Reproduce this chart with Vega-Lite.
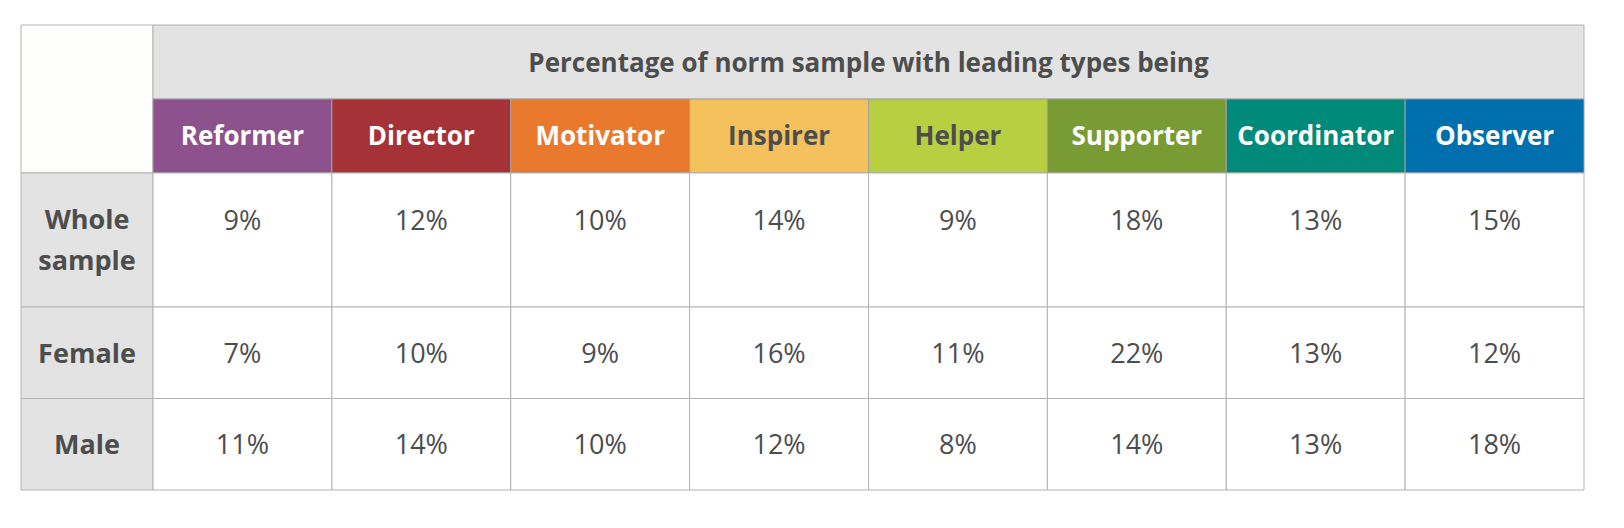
{
  "$schema": "https://vega.github.io/schema/vega-lite/v6.json",
  "padding": {"left": 20, "top": 24, "right": 0, "bottom": 0},
  "autosize": {"type": "pad"},
  "background": "white",
  "config": {"view": {"stroke": null}, "concat": {"spacing": 0}, "font": "Open Sans"},
  "datasets": {
    "types": [
      {"type": "Reformer"}, {"type": "Director"}, {"type": "Motivator"}, {"type": "Inspirer"},
      {"type": "Helper"}, {"type": "Supporter"}, {"type": "Coordinator"}, {"type": "Observer"}
    ],
    "title": [{"title": "Percentage of norm sample with leading types being"}],
    "groups": [{"group": "Whole sample"}, {"group": "Female"}, {"group": "Male"}],
    "cells": [
      {"group": "Whole sample", "type": "Reformer", "pct": "9%"},
      {"group": "Whole sample", "type": "Director", "pct": "12%"},
      {"group": "Whole sample", "type": "Motivator", "pct": "10%"},
      {"group": "Whole sample", "type": "Inspirer", "pct": "14%"},
      {"group": "Whole sample", "type": "Helper", "pct": "9%"},
      {"group": "Whole sample", "type": "Supporter", "pct": "18%"},
      {"group": "Whole sample", "type": "Coordinator", "pct": "13%"},
      {"group": "Whole sample", "type": "Observer", "pct": "15%"},
      {"group": "Female", "type": "Reformer", "pct": "7%"},
      {"group": "Female", "type": "Director", "pct": "10%"},
      {"group": "Female", "type": "Motivator", "pct": "9%"},
      {"group": "Female", "type": "Inspirer", "pct": "16%"},
      {"group": "Female", "type": "Helper", "pct": "11%"},
      {"group": "Female", "type": "Supporter", "pct": "22%"},
      {"group": "Female", "type": "Coordinator", "pct": "13%"},
      {"group": "Female", "type": "Observer", "pct": "12%"},
      {"group": "Male", "type": "Reformer", "pct": "11%"},
      {"group": "Male", "type": "Director", "pct": "14%"},
      {"group": "Male", "type": "Motivator", "pct": "10%"},
      {"group": "Male", "type": "Inspirer", "pct": "12%"},
      {"group": "Male", "type": "Helper", "pct": "8%"},
      {"group": "Male", "type": "Supporter", "pct": "14%"},
      {"group": "Male", "type": "Coordinator", "pct": "13%"},
      {"group": "Male", "type": "Observer", "pct": "18%"}
    ]
  },
  "columns": 2,
  "spacing": 0,
  "bounds": "flush",
  "concat": [
    {
      "width": 132, "height": 148,
      "data": {"name": "title"},
      "mark": {"type": "rect", "fill": "#fefefc", "stroke": "#b3b3b3", "strokeWidth": 1},
      "encoding": {
        "x": {"field": "title", "type": "nominal", "axis": null, "scale": {"paddingInner": 0, "paddingOuter": 0}}
      }
    },
    {
      "width": 1431, "height": 148,
      "layer": [
        {
          "data": {"name": "title"},
          "layer": [
            {
              "mark": {"type": "rect", "fill": "#e3e3e3", "stroke": "#b3b3b3", "strokeWidth": 1},
              "encoding": {
                "y": {"datum": "title", "type": "nominal", "axis": null, "scale": {"domain": ["title", "header"], "paddingInner": 0, "paddingOuter": 0}}
              }
            },
            {
              "mark": {"type": "text", "fontSize": 26, "fontWeight": "bold", "color": "#4d4d4d", "baseline": "middle", "dy": 2},
              "encoding": {
                "y": {"datum": "title", "type": "nominal", "axis": null},
                "text": {"field": "title"}
              }
            }
          ]
        },
        {
          "data": {"name": "types"},
          "encoding": {
            "x": {"field": "type", "type": "nominal", "sort": ["Reformer", "Director", "Motivator", "Inspirer", "Helper", "Supporter", "Coordinator", "Observer"], "axis": null, "scale": {"paddingInner": 0, "paddingOuter": 0}},
            "y": {"datum": "header", "type": "nominal", "axis": null}
          },
          "layer": [
            {
              "mark": {"type": "rect", "stroke": "#a0a0a0", "strokeWidth": 1},
              "encoding": {
                "fill": {"field": "type", "type": "nominal", "legend": null, "scale": {"domain": ["Reformer", "Director", "Motivator", "Inspirer", "Helper", "Supporter", "Coordinator", "Observer"], "range": ["#8d528d", "#a43236", "#e8792d", "#f5c15c", "#b8cf42", "#789c33", "#008a7a", "#006fae"]}}
              }
            },
            {
              "mark": {"type": "text", "fontSize": 26, "fontWeight": "bold", "baseline": "middle", "dy": 1},
              "encoding": {
                "text": {"field": "type"},
                "color": {"condition": {"test": "datum.type === 'Inspirer' || datum.type === 'Helper'", "value": "#4d4d4d"}, "value": "#ffffff"}
              }
            }
          ]
        }
      ]
    },
    {
      "width": 132, "height": 134,
      "data": {"name": "groups"},
      "transform": [{"filter": "datum.group === 'Whole sample'"}],
      "encoding": {
        "x": {"field": "group", "type": "nominal", "axis": null, "scale": {"paddingInner": 0, "paddingOuter": 0}}
      },
      "layer": [
        {
          "mark": {"type": "rect", "fill": "#e3e3e3", "stroke": "#b3b3b3", "strokeWidth": 1}
        },
        {
          "mark": {"type": "text", "fontSize": 27, "fontWeight": "bold", "color": "#4d4d4d", "lineBreak": " ", "lineHeight": 41, "baseline": "middle", "dy": -19},
          "encoding": {"text": {"field": "group"}}
        }
      ]
    },
    {
      "width": 1431, "height": 134,
      "data": {"name": "cells"},
      "transform": [{"filter": "datum.group === 'Whole sample'"}],
      "encoding": {
        "x": {"field": "type", "type": "nominal", "sort": ["Reformer", "Director", "Motivator", "Inspirer", "Helper", "Supporter", "Coordinator", "Observer"], "axis": null, "scale": {"paddingInner": 0, "paddingOuter": 0}}
      },
      "layer": [
        {
          "mark": {"type": "rect", "fill": "#ffffff", "stroke": "#b3b3b3", "strokeWidth": 1}
        },
        {
          "mark": {"type": "text", "fontSize": 27, "color": "#4d4d4d", "baseline": "middle", "dy": -18},
          "encoding": {"text": {"field": "pct"}}
        }
      ]
    },
    {
      "width": 132, "height": 183,
      "data": {"name": "groups"},
      "transform": [{"filter": "datum.group !== 'Whole sample'"}],
      "encoding": {
        "y": {"field": "group", "type": "nominal", "sort": ["Female", "Male"], "axis": null, "scale": {"paddingInner": 0, "paddingOuter": 0}}
      },
      "layer": [
        {
          "mark": {"type": "rect", "fill": "#e3e3e3", "stroke": "#b3b3b3", "strokeWidth": 1}
        },
        {
          "mark": {"type": "text", "fontSize": 27, "fontWeight": "bold", "color": "#4d4d4d", "baseline": "middle", "dy": 2},
          "encoding": {"text": {"field": "group"}}
        }
      ]
    },
    {
      "width": 1431, "height": 183,
      "data": {"name": "cells"},
      "transform": [{"filter": "datum.group !== 'Whole sample'"}],
      "encoding": {
        "x": {"field": "type", "type": "nominal", "sort": ["Reformer", "Director", "Motivator", "Inspirer", "Helper", "Supporter", "Coordinator", "Observer"], "axis": null, "scale": {"paddingInner": 0, "paddingOuter": 0}},
        "y": {"field": "group", "type": "nominal", "sort": ["Female", "Male"], "axis": null, "scale": {"paddingInner": 0, "paddingOuter": 0}}
      },
      "layer": [
        {
          "mark": {"type": "rect", "fill": "#ffffff", "stroke": "#b3b3b3", "strokeWidth": 1}
        },
        {
          "mark": {"type": "text", "fontSize": 27, "color": "#4d4d4d", "baseline": "middle", "dy": 2},
          "encoding": {"text": {"field": "pct"}}
        }
      ]
    }
  ]
}
